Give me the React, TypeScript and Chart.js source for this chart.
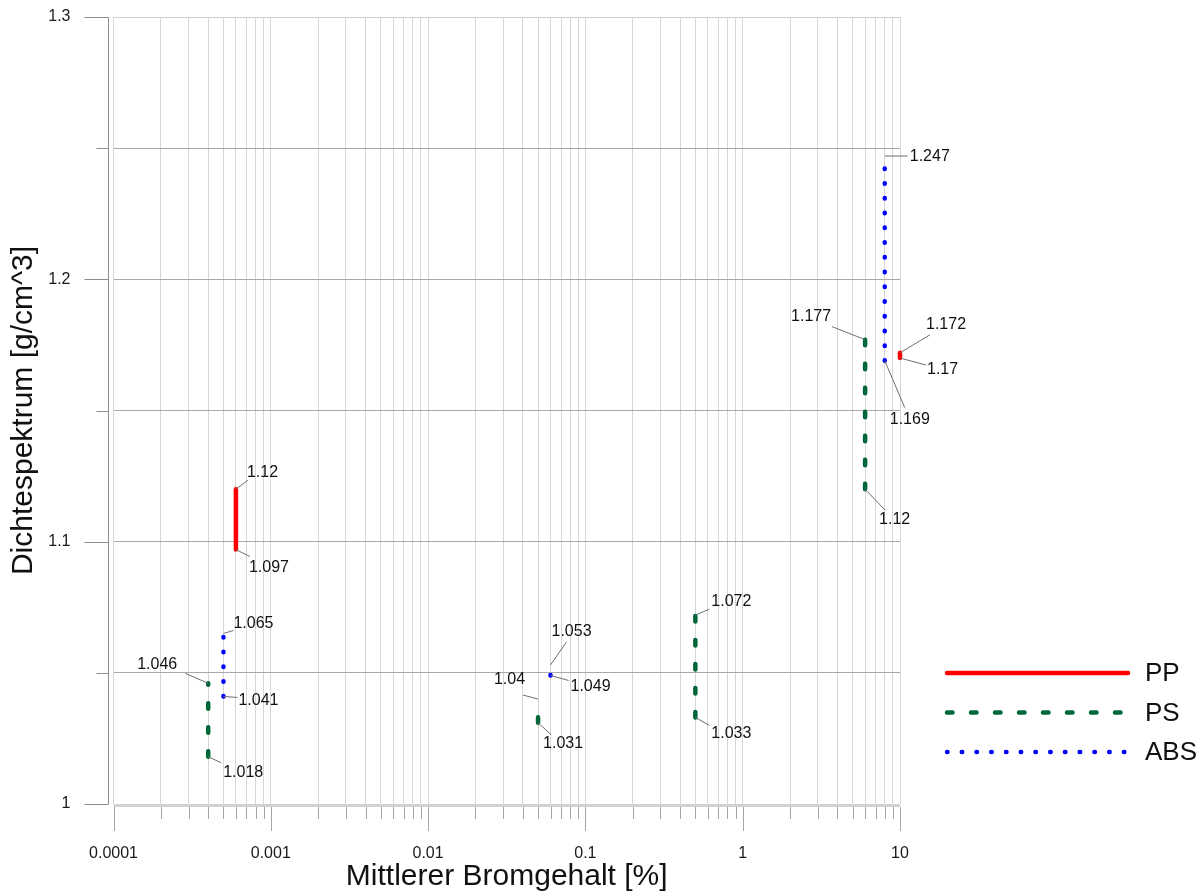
import React, { useEffect, useRef } from 'react';
import { Chart, registerables } from 'chart.js';

Chart.register(...registerables);

const FONT = '"Liberation Sans", Arial, Helvetica, sans-serif';

// ---- data ----
const seriesNames = ['PP', 'PS', 'ABS'];

// PP ranges: bromine content [%], density low / high [g/cm^3]
const ppX = [0.0006, 10];
const ppLow = [1.097, 1.17];
const ppHigh = [1.12, 1.172];

// PS ranges
const psX = [0.0004, 0.05, 0.5, 6];
const psLow = [1.018, 1.031, 1.033, 1.12];
const psHigh = [1.046, 1.04, 1.072, 1.177];

// ABS ranges
const absX = [0.0005, 0.06, 8];
const absLow = [1.041, 1.049, 1.169];
const absHigh = [1.065, 1.053, 1.247];

const xTickValues = [0.0001, 0.001, 0.01, 0.1, 1, 10];
const xTickLabels = ['0.0001', '0.001', '0.01', '0.1', '1', '10'];
const yTickValues = [1, 1.1, 1.2, 1.3];
const yTickLabels = ['1', '1.1', '1.2', '1.3'];

// ---- label layout (pixel offsets of leader end / text from the range end) ----
type Lab = { lx: number; ly: number; tx: number; ty: number; align: CanvasTextAlign };
const L = (lx: number, ly: number, tx: number, ty: number, align: CanvasTextAlign = 'left'): Lab => ({ lx, ly, tx, ty, align });

const ppLabelLayout = [
  { low: L(14, 7, 13, 18), high: L(12, -9, 11, -17) },
  { low: L(26, 7, 27, 12), high: L(30, -18, 26, -28) },
];
const psLabelLayout = [
  { low: L(13, 6, 15, 16), high: L(-23, -10, -31, -19, 'right') },
  { low: L(13, 12, 5, 21), high: L(-15, -4, -13, -19, 'right') },
  { low: L(14, 8, 16, 16), high: L(14, -6, 16, -14) },
  { low: L(20, 21, 14, 30), high: L(-33, -13, -34, -23, 'right') },
];
const absLabelLayout = [
  { low: L(14, 1, 15, 4), high: L(10, -3, 10, -10) },
  { low: L(18, 5, 20, 11), high: L(16, -23, 1, -33) },
  { low: L(20, 47, 5, 59), high: L(23, 0, 25, 1) },
];

const seriesX = [ppX, psX, absX];
const seriesLow = [ppLow, psLow, absLow];
const seriesHigh = [ppHigh, psHigh, absHigh];
const seriesLayout = [ppLabelLayout, psLabelLayout, absLabelLayout];
const seriesColors = ['#ff0000', '#00673a', '#0000ff'];
const seriesDash = [[], [5.5, 18.5], [0.5, 14.24]];

function rangesToPoints(xs: number[], lows: number[], highs: number[]) {
  const pts: { x: number; y: number | null }[] = [];
  xs.forEach((x, i) => {
    pts.push({ x, y: lows[i] });
    pts.push({ x, y: highs[i] });
    pts.push({ x, y: null });
  });
  return pts;
}

const isMajorY = (v: number) => yTickValues.some((t) => Math.abs(t - v) < 1e-6);
const isMajorX = (v: number) => xTickValues.some((t) => Math.abs(t - v) / t < 1e-6);

const overlayPlugin = {
  id: 'overlay',
  beforeDatasetsDraw(chart: any) {
    const { ctx, chartArea: ca, scales } = chart;
    const xs = scales.x;
    const ys = scales.y;
    ctx.save();
    // offset y axis
    const ax = Math.round(ca.left - 6) + 0.5;
    ctx.strokeStyle = '#8e8e8e';
    ctx.lineWidth = 1;
    ctx.beginPath();
    ctx.moveTo(ax, Math.round(ca.top) + 0.5);
    ctx.lineTo(ax, Math.round(ca.bottom) + 0.5);
    ys.ticks.forEach((t: any) => {
      const py = Math.round(ys.getPixelForValue(t.value)) + 0.5;
      ctx.moveTo(ax - (isMajorY(t.value) ? 24 : 12), py);
      ctx.lineTo(ax, py);
    });
    ctx.stroke();
    // x axis line
    ctx.strokeStyle = '#d2d2d2';
    ctx.lineWidth = 2;
    ctx.beginPath();
    ctx.moveTo(ca.left, ca.bottom + 2);
    ctx.lineTo(ca.right, ca.bottom + 2);
    ctx.stroke();
    // x ticks
    ctx.strokeStyle = '#a4a4a4';
    ctx.lineWidth = 1;
    ctx.beginPath();
    xs.ticks.forEach((t: any) => {
      const px = Math.round(xs.getPixelForValue(t.value)) + 0.5;
      ctx.moveTo(px, ca.bottom + 3);
      ctx.lineTo(px, ca.bottom + (isMajorX(t.value) ? 27 : 15));
    });
    ctx.stroke();
    ctx.restore();
  },
  afterDatasetsDraw(chart: any) {
    const { ctx, scales } = chart;
    const xs = scales.x;
    const ys = scales.y;
    ctx.save();
    ctx.font = '16px ' + FONT;
    ctx.textBaseline = 'middle';
    seriesX.forEach((arr, s) => {
      arr.forEach((xv, i) => {
        const px = xs.getPixelForValue(xv);
        const ends: [number, Lab][] = [
          [seriesLow[s][i], seriesLayout[s][i].low],
          [seriesHigh[s][i], seriesLayout[s][i].high],
        ];
        ends.forEach(([val, lab]) => {
          const py = ys.getPixelForValue(val);
          ctx.strokeStyle = '#6e6e6e';
          ctx.lineWidth = 1;
          ctx.setLineDash([]);
          ctx.beginPath();
          ctx.moveTo(px, py);
          ctx.lineTo(px + lab.lx, py + lab.ly);
          ctx.stroke();
          ctx.fillStyle = '#111';
          ctx.textAlign = lab.align;
          ctx.fillText(String(val), px + lab.tx, py + lab.ty);
        });
      });
    });
    ctx.restore();
  },
  afterDraw(chart: any) {
    const { ctx } = chart;
    ctx.save();
    const x1 = 947;
    const x2 = 1128;
    const y0 = 673;
    const dy = 39.5;
    chart.data.datasets.forEach((ds: any, i: number) => {
      const y = y0 + i * dy;
      ctx.strokeStyle = ds.borderColor;
      ctx.lineWidth = ds.borderWidth;
      ctx.lineCap = 'round';
      ctx.setLineDash(ds.borderDash || []);
      ctx.beginPath();
      ctx.moveTo(x1, y);
      ctx.lineTo(x2, y);
      ctx.stroke();
      ctx.setLineDash([]);
      ctx.fillStyle = '#111';
      ctx.font = '26px ' + FONT;
      ctx.textAlign = 'left';
      ctx.textBaseline = 'middle';
      ctx.fillText(ds.label, 1145, y + 1);
    });
    ctx.restore();
  },
};

export default function App() {
  const ref = useRef<HTMLCanvasElement>(null);
  useEffect(() => {
    if (!ref.current) return;
    const datasets = seriesNames.map((name, s) => ({
      label: name,
      data: rangesToPoints(seriesX[s], seriesLow[s], seriesHigh[s]),
      borderColor: seriesColors[s],
      backgroundColor: seriesColors[s],
      borderWidth: 4.5,
      borderCapStyle: 'round' as const,
      borderDash: seriesDash[s],
      pointRadius: 0,
      pointHoverRadius: 0,
      fill: false,
      tension: 0,
      spanGaps: false,
      clip: false as const,
    }));
    const chart = new Chart(ref.current, {
      type: 'line',
      data: { datasets },
      options: {
        animation: false,
        responsive: false,
        devicePixelRatio: 1,
        layout: { padding: { left: 0, top: 17, right: 304, bottom: 0 } },
        plugins: { legend: { display: false }, tooltip: { enabled: false } },
        events: [],
        scales: {
          x: {
            type: 'logarithmic',
            min: xTickValues[0],
            max: xTickValues[xTickValues.length - 1],
            afterBuildTicks: (scale: any) => {
              const ticks: { value: number }[] = [];
              for (let d = 0; d < xTickValues.length - 1; d++) {
                for (let k = 1; k <= 9; k++) ticks.push({ value: k * xTickValues[d] });
              }
              ticks.push({ value: xTickValues[xTickValues.length - 1] });
              scale.ticks = ticks;
            },
            afterFit: (scale: any) => {
              scale.height = 90;
              scale.paddingLeft = 0;
              scale.paddingRight = 0;
            },
            grid: { color: '#d6d6d6', lineWidth: 1, drawTicks: false },
            border: { display: false },
            ticks: {
              autoSkip: false,
              maxRotation: 0,
              minRotation: 0,
              padding: 40,
              color: '#1a1a1a',
              font: { family: FONT, size: 16 },
              callback: (value: any) => {
                const i = xTickValues.findIndex((t) => Math.abs(t - Number(value)) / t < 1e-6);
                return i >= 0 ? xTickLabels[i] : '';
              },
            },
            title: {
              display: true,
              text: 'Mittlerer Bromgehalt [%]',
              color: '#111',
              font: { family: FONT, size: 30, lineHeight: 1 },
              padding: { top: 0, bottom: 2 },
            },
          },
          y: {
            type: 'linear',
            min: 1,
            max: 1.3,
            afterFit: (scale: any) => {
              scale.width = 113.5;
              scale.paddingTop = 0;
              scale.paddingBottom = 0;
            },
            grid: {
              color: (c: any) => {
                const v = c.tick ? c.tick.value : 0;
                if (Math.abs(v - 1.3) < 1e-6 || Math.abs(v - 1) < 1e-6) return '#d0d0d0';
                return '#a9a9a9';
              },
              lineWidth: 1,
              drawTicks: false,
            },
            border: { display: false },
            ticks: {
              stepSize: 0.05,
              padding: 43,
              color: '#1a1a1a',
              font: { family: FONT, size: 16 },
              callback: (value: any) => {
                const i = yTickValues.findIndex((t) => Math.abs(t - Number(value)) < 1e-6);
                return i >= 0 ? yTickLabels[i] : '';
              },
            },
            title: {
              display: true,
              text: 'Dichtespektrum [g/cm^3]',
              color: '#111',
              font: { family: FONT, size: 30, lineHeight: 1 },
              padding: { top: 9, bottom: 0 },
            },
          },
        },
      },
      plugins: [overlayPlugin],
    } as any);
    return () => chart.destroy();
  }, []);
  return (
    <div style={{ position: 'absolute', left: 0, top: 0, width: 1204, height: 894, background: '#fff' }}>
      <canvas ref={ref} width={1204} height={894} style={{ display: 'block', width: 1204, height: 894 }} />
    </div>
  );
}
